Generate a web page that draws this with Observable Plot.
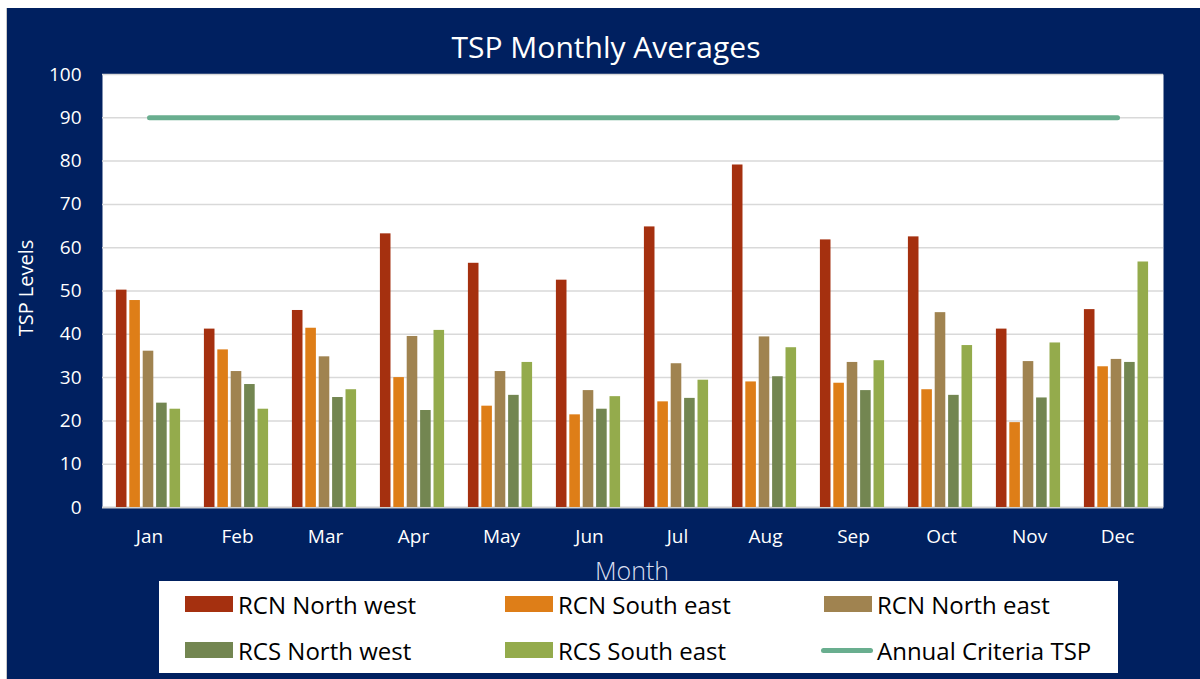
<!DOCTYPE html>
<html>
<head>
<meta charset="utf-8">
<script src="https://cdn.jsdelivr.net/npm/d3@7"></script>
<script src="https://cdn.jsdelivr.net/npm/@observablehq/plot@0.6"></script>
<style>
  html, body { margin: 0; padding: 0; background: #ffffff; width: 1200px; height: 679px; overflow: hidden; }
  #bg { position: absolute; left: 6px; top: 8px; width: 1194px; height: 671px; background: #002060; border-left: 1px solid #c8c8c8; box-sizing: border-box; }
  #title { position: absolute; left: 0; width: 1212px; top: 27px; text-align: center; color: #ffffff; font-family: "Open Sans", sans-serif; font-size: 30px; line-height: 40px; }
  #chart { position: absolute; left: 0; top: 0; }
  #ylabel { position: absolute; left: 25px; top: 288px; transform: translate(-50%, -50%) rotate(-90deg); color: #ffffff; font-family: "Open Sans", sans-serif; font-size: 20px; white-space: nowrap; }
  #xlabel { position: absolute; left: 0; width: 1264px; top: 552px; text-align: center; color: #d9dff0; font-family: "Open Sans", sans-serif; font-weight: 300; font-size: 25px; line-height: 36px; }
  #legend { position: absolute; left: 159px; top: 581px; width: 959px; height: 92px; background: #ffffff; box-sizing: border-box; padding-left: 26px;
            display: grid; grid-template-columns: 320px 319px 300px; grid-template-rows: 46px 46px; font-family: "Open Sans", sans-serif; font-size: 24px; color: #000000; }
  .item { display: flex; align-items: center; white-space: nowrap; }
  .sw { width: 48px; height: 16px; margin-right: 5px; flex: none; }
  .ln { width: 52px; height: 5px; border-radius: 3px; margin-right: 4px; margin-left: -3px; flex: none; }
</style>
</head>
<body>
<div id="bg"></div>
<div id="title">TSP Monthly Averages</div>
<div id="chart"></div>
<div id="ylabel">TSP Levels</div>
<div id="xlabel">Month</div>
<div id="legend"></div>
<script>
// ---- data ----
const months = ["Jan","Feb","Mar","Apr","May","Jun","Jul","Aug","Sep","Oct","Nov","Dec"];
const seriesNames = ["RCN North west","RCN South east","RCN North east","RCS North west","RCS South east"];
const seriesColors = ["#A5300F","#DE7E18","#A08350","#738651","#94AB4C"];
const rcnNorthWest = [50.2, 41.2, 45.5, 63.2, 56.4, 52.5, 64.8, 79.1, 61.8, 62.5, 41.2, 45.7];
const rcnSouthEast = [47.8, 36.4, 41.4, 30.0, 23.4, 21.4, 24.4, 29.0, 28.7, 27.2, 19.6, 32.5];
const rcnNorthEast = [36.1, 31.4, 34.8, 39.5, 31.4, 27.0, 33.2, 39.4, 33.5, 45.0, 33.7, 34.2];
const rcsNorthWest = [24.1, 28.4, 25.4, 22.4, 25.9, 22.7, 25.2, 30.2, 27.0, 25.9, 25.3, 33.5];
const rcsSouthEast = [22.7, 22.7, 27.2, 40.9, 33.5, 25.6, 29.4, 36.9, 33.9, 37.4, 38.0, 56.7];
const criteriaName = "Annual Criteria TSP";
const criteriaColor = "#69AE8F";
const annualCriteria = [90, 90, 90, 90, 90, 90, 90, 90, 90, 90, 90, 90];
const yTicks = [0, 10, 20, 30, 40, 50, 60, 70, 80, 90, 100];

const seriesValues = [rcnNorthWest, rcnSouthEast, rcnNorthEast, rcsNorthWest, rcsSouthEast];

// ---- layout ----
const W = 1200, H = 560, ML = 102, MR = 37, MT = 74, MB = 53;
const step = (W - ML - MR) / months.length;
const barW = 11, barGap = 2.4;
const groupW = seriesNames.length * barW + (seriesNames.length - 1) * barGap;
const outer = (step - groupW) / 2 - 1;

const barMarks = seriesNames.map((name, j) => {
  const rows = months.map((m, i) => ({month: m, value: seriesValues[j][i], series: name}));
  const left = outer + j * (barW + barGap);
  return Plot.barY(rows, {
    x: "month", y: "value", fill: seriesColors[j],
    insetLeft: left, insetRight: step - left - barW
  });
});

const critRows = months.map((m, i) => ({month: m, value: annualCriteria[i]}));

const chart = Plot.plot({
  width: W, height: H,
  marginLeft: ML, marginRight: MR, marginTop: MT, marginBottom: MB,
  style: {background: "transparent", color: "#ffffff", fontFamily: "Open Sans, sans-serif", fontSize: "19px"},
  x: {domain: months, padding: 0, tickSize: 0, tickPadding: 22, label: null},
  y: {domain: [0, 100], ticks: yTicks, tickSize: 0, tickPadding: 21, label: null, tickFormat: d => String(d)},
  marks: [
    Plot.frame({fill: "#ffffff", stroke: null}),
    Plot.ruleY(yTicks.filter(d => d > 0), {stroke: "#d9d9d9", strokeWidth: 1.5}),
    Plot.ruleY([0], {stroke: "#d0d0d0", strokeWidth: 2}),
    ...barMarks,
    Plot.lineY(critRows, {x: "month", y: "value", stroke: criteriaColor, strokeWidth: 5, strokeLinecap: "round"})
  ]
});
document.getElementById("chart").appendChild(chart);

// ---- legend ----
const legend = document.getElementById("legend");
const legendItems = seriesNames.map((n, j) => ({name: n, color: seriesColors[j], kind: "bar"}))
  .concat([{name: criteriaName, color: criteriaColor, kind: "line"}]);
for (const it of legendItems) {
  const div = document.createElement("div");
  div.className = "item";
  const sw = document.createElement("span");
  sw.className = it.kind === "bar" ? "sw" : "ln";
  sw.style.background = it.color;
  const tx = document.createElement("span");
  tx.textContent = it.name;
  div.appendChild(sw);
  div.appendChild(tx);
  legend.appendChild(div);
}
</script>
</body>
</html>
